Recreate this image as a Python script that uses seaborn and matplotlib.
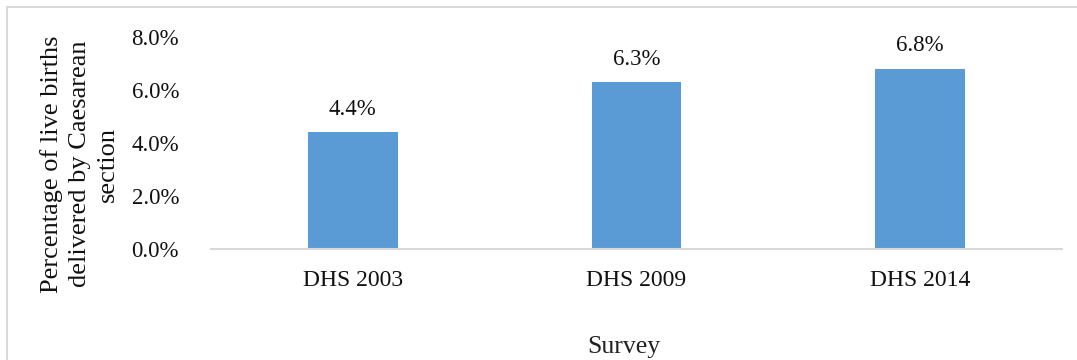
import matplotlib
matplotlib.use("Agg")
import matplotlib.pyplot as plt
from matplotlib import font_manager as fm
import seaborn as sns
import pandas as pd
from matplotlib.patches import Rectangle
from matplotlib.ticker import FuncFormatter

categories = ["DHS 2003", "DHS 2009", "DHS 2014"]
values = [4.4, 6.3, 6.8]
value_labels = ["4.4%", "6.3%", "6.8%"]
y_ticks = [0, 2, 4, 6, 8]

sns.set_theme(style="white")
names = sorted({f.name for f in fm.fontManager.ttflist})
serif = [n for n in names if "Liberation Serif" in n or "Times" in n]
plt.rcParams["font.family"] = serif + ["DejaVu Serif"]

df = pd.DataFrame({"Survey": categories, "Value": values})

W, H = 1077, 360
fig = plt.figure(figsize=(W / 100, H / 100), dpi=100)
ax = fig.add_axes([211 / W, 1 - 249 / H, (1062 - 211) / W, (249 - 37) / H])

sns.barplot(data=df, x="Survey", y="Value", color="#5B9BD5", width=0.315,
            saturation=1, ax=ax, edgecolor="none")

ax.set_ylim(0, 8)
ax.set_xlim(-0.5, 2.5)
ax.set_yticks(y_ticks)
ax.yaxis.set_major_formatter(FuncFormatter(lambda v, p: f"{v:.1f}%"))
ax.tick_params(axis="y", length=0, labelsize=16.5, pad=23, labelcolor="#111111")
ax.tick_params(axis="x", length=0, labelsize=17, pad=15, labelcolor="#111111")

for s in ["top", "right", "left"]:
    ax.spines[s].set_visible(False)
ax.spines["bottom"].set_color("#D9D9D9")
ax.spines["bottom"].set_linewidth(1.5)

for i, (v, lab) in enumerate(zip(values, value_labels)):
    ax.annotate(lab, (i, v), xytext=(0, 9), textcoords="offset points",
                ha="center", va="bottom", fontsize=16.5, color="#111111")

aw, ah = 1062 - 211, 249 - 37
ax.set_xlabel("Survey", fontsize=18.5, color="#222222")
ax.xaxis.set_label_coords((624 - 211) / aw, -(336 - 249) / ah)
ax.set_ylabel("Percentage of live births\ndelivered by Caesarean\nsection",
              fontsize=19, color="#111111", linespacing=1.35)
ax.yaxis.set_label_coords(-(211 - 119) / aw, (249 - 164) / ah)

fig.patches.append(Rectangle((6.5 / W, -0.05), 1.2, 1 - 7 / H + 0.05,
                             transform=fig.transFigure, fill=False,
                             edgecolor="#D9D9D9", linewidth=1.5))

fig.savefig("out.png", dpi=100)
